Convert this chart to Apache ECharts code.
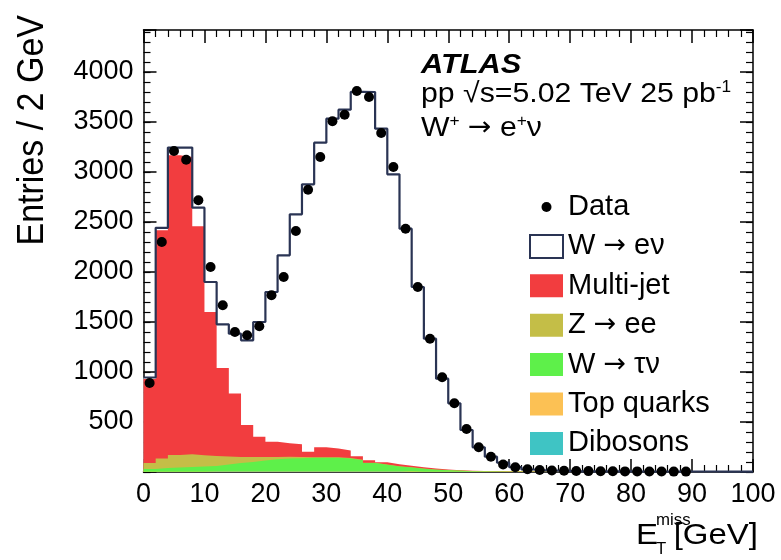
<!DOCTYPE html>
<html><head><meta charset="utf-8">
<script src="https://cdn.jsdelivr.net/npm/echarts@6/dist/echarts.min.js"></script>
<style>html,body{margin:0;padding:0;background:#fff}#c{width:781px;height:560px}</style>
</head><body><div id="c"></div>
<script>
// lower bin edges (GeV), bins are 2 GeV wide
const binLow = [0,2,4,6,8,10,12,14,16,18,20,22,24,26,28,30,32,34,36,38,40,42,44,46,48,50,52,54,56,58,60,62,64,66,68,70,72,74,76,78,80,82,84,86,88,90,92,94,96,98];
const binCenter = [1,3,5,7,9,11,13,15,17,19,21,23,25,27,29,31,33,35,37,39,41,43,45,47,49,51,53,55,57,59,61,63,65,67,69,71,73,75,77,79,81,83,85,87,89,91,93,95,97,99];
const xMax = 100;

// MC components (stack order bottom to top)
const dibosons = [1,1,1,1,1,2,2,2,2,2, 2,2,2,2,2,2,2,2,2,2, 2,1,1,1,1,1,1,1,1,1, 1,0,0,0,0,0,0,0,0,0, 0,0,0,0,0,0,0,0,0,0];
const topQuarks = [1,1,2,2,2,3,3,3,3,3, 4,4,4,4,4,4,4,4,3,3, 3,3,2,2,2,2,1,1,1,1, 1,1,1,1,1,0,0,0,0,0, 0,0,0,0,0,0,0,0,0,0];
const wTauNu = [28,38,42,47,52,55,70,85,95,110, 122,129,131,136,137,137,129,112,85,67, 50,41,30,20,14,9,6,3,2,1, 1,1,1,1,0,0,0,0,0,0, 0,0,0,0,0,0,0,0,0,0];
const zee = [60,95,125,127,112,100,80,60,50,35, 22,17,13,6,5,4,4,4,3,3, 3,3,3,3,3,3,3,4,4,4, 4,4,4,4,4,4,4,4,4,4, 4,4,4,4,4,4,4,4,4,4];
const multiJet = [840,2282,2997,2973,2290,1440,885,635,320,203, 153,135,127,55,100,88,76,35,25,22, 20,15,12,8,5,3,2,1,1,1, 1,1,1,1,1,0,0,0,0,0, 0,0,0,0,0,0,0,0,0,0];
const wENu = [15,25,77,94,186,300,437,598,847,1147, 1497,1880,2300,2674,3045,3298,3408,3644,3682,3336, 2899,2370,1802,1299,908,669,407,237,144,85, 40,18,10,6,4,3,3,2,2,2, 1,1,1,1,1,1,1,0,0,0];
// data points (null = empty bin)
const dataPts = [890,2300,3210,3123,2717,2050,1667,1400,1367,1457, 1767,1950,2410,2823,3150,3507,3573,3810,3750,3390, 3050,2433,1850,1333,947,687,430,247,153,75, 47,28,20,15,12,10,9,8,7,6, 6,5,5,4,4,null,null,null,null,null];

const yTickLabels = [500,1000,1500,2000,2500,3000,3500,4000];
const xTickLabels = [0,10,20,30,40,50,60,70,80,90,100];

const FONT = 'Liberation Sans';
const ARROW_FONT = 'DejaVu Sans';
const colors = {
  dib: '#3fc4c4', top: '#fcc154', wtau: '#5ef04a', zee: '#c4be47', mj: '#f23d3f', line: '#2a3454'
};

const legendNames = ['Data','W \u2192 e\u03bd','Multi-jet','Z \u2192 ee','W \u2192 \u03c4\u03bd','Top quarks','Dibosons'];

// cumulative stack built from the component arrays
const components = [dibosons, topQuarks, wTauNu, zee, multiJet, wENu];
const compNames = [legendNames[6], legendNames[5], legendNames[4], legendNames[3], legendNames[2], legendNames[1]];
const compColors = [colors.dib, colors.top, colors.wtau, colors.zee, colors.mj, '#ffffff'];
const cumulative = [];
let run = binLow.map(()=>0);
components.forEach(arr => { run = run.map((v,i)=> v + arr[i]); cumulative.push(run.slice()); });

function stepData(arr){
  const d = binLow.map((e,i)=>[e, arr[i]]);
  d.push([xMax, arr[arr.length-1]]);
  return d;
}

const mcSeries = [];
// draw from top of the stack down so lower components paint over
for (let k = components.length - 1; k >= 0; k--) {
  mcSeries.push({
    name: compNames[k], type:'line', step:'end', data: stepData(cumulative[k]),
    showSymbol:false, symbol:'none', color: compColors[k],
    lineStyle:{width:0, color:compColors[k]},
    areaStyle:{color:compColors[k], opacity:1, origin:'start'},
    xAxisIndex:0, yAxisIndex:0, silent:true, z:2
  });
}
// outline of the total prediction (W -> e nu on top of the stack)
mcSeries.push({
  name:'total-outline', type:'line', step:'end', data: stepData(cumulative[components.length-1]),
  showSymbol:false, symbol:'none', lineStyle:{width:2.2, color:colors.line},
  xAxisIndex:0, yAxisIndex:0, silent:true, z:4
});

const chart = echarts.init(document.getElementById('c'), null, {renderer:'canvas'});

const axisLineStyle = {color:'#000', width:1.5};
const xCommon = {
  type:'value', min:0, max:xMax, interval:10,
  splitLine:{show:false},
  axisLine:{show:true, onZero:false, lineStyle:axisLineStyle},
  axisTick:{show:true, inside:true, length:13, lineStyle:{color:'#000', width:1.5}},
  minorTick:{show:true, splitNumber:5, length:7, lineStyle:{color:'#000', width:1.2}},
  minorSplitLine:{show:false}
};
const yMajor = {
  type:'value', min:0, max:4420, interval:500, splitLine:{show:false},
  axisLine:{show:true, onZero:false, lineStyle:axisLineStyle},
  axisTick:{show:true, inside:true, length:13, lineStyle:{color:'#000', width:1.5}}
};
const yMinor = {
  type:'value', min:0, max:4420, interval:100, splitLine:{show:false},
  axisLine:{show:false, onZero:false},
  axisTick:{show:true, inside:true, length:7, lineStyle:{color:'#000', width:1.2}},
  axisLabel:{show:false}
};

const option = {
  animation:false,
  backgroundColor:'#fff',
  grid:{left:143.5, right:28, top:30, bottom:88, containLabel:false},
  xAxis:[
    Object.assign({}, xCommon, {position:'bottom',
      axisLabel:{show:true, fontFamily:FONT, fontSize:27, color:'#000', margin:9,
        formatter:v=> xTickLabels.indexOf(v) >= 0 ? String(v) : ''}}),
    Object.assign({}, xCommon, {position:'top', axisLabel:{show:false}})
  ],
  yAxis:[
    Object.assign({}, yMajor, {position:'left',
      axisLabel:{show:true, fontFamily:FONT, fontSize:27, color:'#000', margin:10,
        formatter:v=> yTickLabels.indexOf(v) >= 0 ? String(v) : ''}}),
    Object.assign({}, yMinor, {position:'left'}),
    Object.assign({}, yMajor, {position:'right', axisLabel:{show:false}}),
    Object.assign({}, yMinor, {position:'right'})
  ],
  legend:{
    orient:'vertical', left:529, top:192.5, padding:0,
    itemWidth:33, itemHeight:23, itemGap:10.4,
    formatter: name => name.replace(' \u2192 ', '{s| }{a|\u2192}{s| }'),
    textStyle:{fontFamily:FONT, fontSize:29, color:'#000', lineHeight:23,
      rich:{a:{fontFamily:ARROW_FONT, fontSize:27, color:'#000', lineHeight:23},
            s:{fontFamily:FONT, fontSize:29, color:'#000', lineHeight:23}}},
    data:[
      {name:legendNames[0], icon:'path://M0 0M33 23M21.5 11.5A5 5 0 1 1 11.5 11.5A5 5 0 1 1 21.5 11.5Z', itemStyle:{color:'#000', borderWidth:0, opacity:1}},
      {name:legendNames[1], icon:'rect', itemStyle:{color:'#fff', borderColor:colors.line, borderWidth:2}},
      {name:legendNames[2], icon:'rect', itemStyle:{color:colors.mj, borderWidth:0}},
      {name:legendNames[3], icon:'rect', itemStyle:{color:colors.zee, borderWidth:0}},
      {name:legendNames[4], icon:'rect', itemStyle:{color:colors.wtau, borderWidth:0}},
      {name:legendNames[5], icon:'rect', itemStyle:{color:colors.top, borderWidth:0}},
      {name:legendNames[6], icon:'rect', itemStyle:{color:colors.dib, borderWidth:0}}
    ]
  },
  series: mcSeries.concat([
    {
      name:legendNames[0], type:'scatter', xAxisIndex:0, yAxisIndex:0,
      data: binCenter.map((c,i)=> dataPts[i] == null ? null : [c, dataPts[i]]).filter(d=>d),
      symbol:'circle', symbolSize:10, itemStyle:{color:'#000', opacity:1}, z:10, silent:true
    }
  ]),
  graphic:[
    {type:'text', x:421, y:65, scaleX:1.1, style:{text:'ATLAS', fontFamily:FONT, fontSize:28, fontWeight:'bold', fontStyle:'italic', fill:'#000', verticalAlign:'middle', align:'left'}},
    {type:'text', x:421, y:94, scaleX:1.08, style:{
      text:'{n|pp \u221As=5.02 TeV 25 pb}{s|-1}', verticalAlign:'middle', align:'left',
      rich:{n:{fontFamily:FONT, fontSize:28, fill:'#000'}, s:{fontFamily:FONT, fontSize:16, fill:'#000', verticalAlign:'top'}}}},
    {type:'text', x:421, y:128, scaleX:1.08, style:{
      text:'{n|W}{s|+}{n| }{a|\u2192}{n| e}{s|+}{n|\u03bd}', verticalAlign:'middle', align:'left',
      rich:{n:{fontFamily:FONT, fontSize:28, fill:'#000'}, a:{fontFamily:ARROW_FONT, fontSize:26, fill:'#000'},
            s:{fontFamily:FONT, fontSize:16, fill:'#000', verticalAlign:'top'}}}},
    {type:'text', x:33, y:15, rotation:Math.PI/2, scaleY:1.1, style:{text:'Entries / 2 GeV', fontFamily:FONT, fontSize:34, fill:'#000', align:'right', verticalAlign:'middle'}},
    {type:'text', x:636, y:536, scaleX:1.1, style:{text:'E', fontFamily:FONT, fontSize:30, fill:'#000', align:'left', verticalAlign:'middle'}},
    {type:'text', x:656, y:521, scaleX:1.05, style:{text:'miss', fontFamily:FONT, fontSize:16, fill:'#000', align:'left', verticalAlign:'middle'}},
    {type:'text', x:656, y:550, scaleX:1.05, style:{text:'T', fontFamily:FONT, fontSize:16, fill:'#000', align:'left', verticalAlign:'middle'}},
    {type:'text', x:758, y:536, scaleX:1.1, style:{text:'[GeV]', fontFamily:FONT, fontSize:30, fill:'#000', align:'right', verticalAlign:'middle'}}
  ]
};
chart.setOption(option);
</script>
</body></html>
